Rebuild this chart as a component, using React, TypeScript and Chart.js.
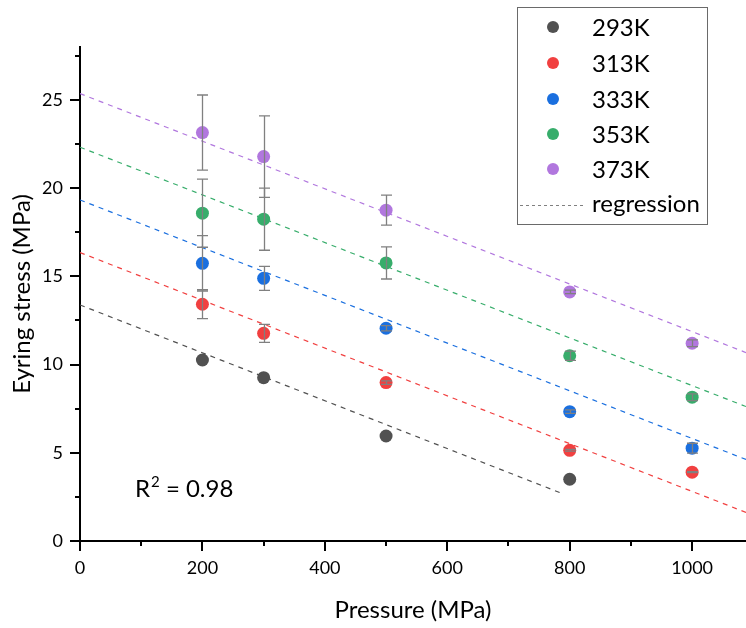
import React, { useEffect, useRef } from "react";
import { Chart, registerables } from "chart.js";

Chart.register(...registerables);

// ---------- data ----------
const pressures = [200, 300, 500, 800, 1000];
const seriesNames = ["293K", "313K", "333K", "353K", "373K"];
const colors = ["#515151", "#F14040", "#1A6FDF", "#37AD6B", "#B177DE"];

const s293 = [10.26, 9.26, 5.95, 3.5, null];
const s313 = [13.42, 11.77, 8.98, 5.14, 3.9];
const s333 = [15.74, 14.89, 12.06, 7.33, 5.26];
const s353 = [18.58, 18.24, 15.76, 10.5, 8.15];
const s373 = [23.15, 21.79, 18.75, 14.12, 11.21];

const e293 = [0, 0, 0, 0, 0];
const e313 = [0.82, 0.51, 0.1, 0.05, 0.03];
const e333 = [1.57, 0.68, 0.15, 0.1, 0.28];
const e353 = [1.93, 1.76, 0.91, 0.26, 0.19];
const e373 = [2.13, 2.31, 0.85, 0.1, 0.19];

// regression line end points (x in MPa, y in MPa)
const reg293X = [0, 790];
const reg293Y = [13.38, 2.66];
const regX = [0, 1088];
const reg313Y = [16.35, 1.62];
const reg333Y = [19.33, 4.62];
const reg353Y = [22.32, 7.62];
const reg373Y = [25.36, 10.68];

const xTickLabels = ["0", "200", "400", "600", "800", "1000"];
const yTickLabels = ["0", "5", "10", "15", "20", "25"];
const r2Text = "0.98";

const values = [s293, s313, s333, s353, s373];
const errors = [e293, e313, e333, e353, e373];
const regs = [
  { x: reg293X, y: reg293Y },
  { x: regX, y: reg313Y },
  { x: regX, y: reg333Y },
  { x: regX, y: reg353Y },
  { x: regX, y: reg373Y },
];

const FONT = "Lato";

const decor = {
  id: "decor",
  afterDatasetsDraw(chart: any) {
    const { ctx, scales } = chart;
    const x = scales.x;
    const y = scales.y;
    ctx.save();
    ctx.strokeStyle = "#808080";
    ctx.lineWidth = 1.3;
    values.forEach((arr, si) => {
      arr.forEach((v, i) => {
        const e = errors[si][i];
        if (v == null || !e) return;
        const px = Math.round(x.getPixelForValue(pressures[i])) + 0.5;
        const pt = y.getPixelForValue(v + e);
        const pb = y.getPixelForValue(v - e);
        ctx.beginPath();
        ctx.moveTo(px, pt);
        ctx.lineTo(px, pb);
        ctx.moveTo(px - 5.5, pt);
        ctx.lineTo(px + 5.5, pt);
        ctx.moveTo(px - 5.5, pb);
        ctx.lineTo(px + 5.5, pb);
        ctx.stroke();
      });
    });
    ctx.restore();
  },
  afterDraw(chart: any) {
    const { ctx, scales, chartArea } = chart;
    const x = scales.x;
    const y = scales.y;
    ctx.save();
    // tick marks
    ctx.strokeStyle = "#000";
    ctx.lineWidth = 2;
    y.ticks.forEach((t: any) => {
      const py = Math.round(y.getPixelForValue(t.value));
      const major = Math.abs(t.value % 5) < 1e-6;
      ctx.beginPath();
      ctx.moveTo(chartArea.left - (major ? 10 : 5), py);
      ctx.lineTo(chartArea.left, py);
      ctx.stroke();
    });
    x.ticks.forEach((t: any) => {
      const px = Math.round(x.getPixelForValue(t.value));
      const major = Math.abs(t.value % 200) < 1e-6;
      ctx.beginPath();
      ctx.moveTo(px, chartArea.bottom);
      ctx.lineTo(px, chartArea.bottom + (major ? 10 : 5));
      ctx.stroke();
    });

    // legend box
    const lx = 517, ly = 7, lw = 190, lh = 217;
    ctx.strokeStyle = "#6a6a6a";
    ctx.lineWidth = 1;
    ctx.strokeRect(lx + 0.5, ly + 0.5, lw, lh);
    const rows = [27, 63, 99, 134, 169];
    ctx.font = `24px ${FONT}`;
    ctx.textBaseline = "middle";
    ctx.textAlign = "left";
    seriesNames.forEach((n, i) => {
      ctx.fillStyle = colors[i];
      ctx.beginPath();
      ctx.arc(553, rows[i], 6, 0, Math.PI * 2);
      ctx.fill();
      ctx.fillStyle = "#000";
      ctx.fillText(n, 592, rows[i] + 1);
    });
    ctx.strokeStyle = "#808080";
    ctx.lineWidth = 1;
    ctx.setLineDash([3, 3]);
    ctx.beginPath();
    ctx.moveTo(520, 205.5);
    ctx.lineTo(586, 205.5);
    ctx.stroke();
    ctx.setLineDash([]);
    ctx.fillStyle = "#000";
    ctx.fillText("regression", 592, 204);

    // R² annotation
    ctx.textBaseline = "alphabetic";
    ctx.font = `24px ${FONT}`;
    let tx = 135;
    const by = 497;
    ctx.fillText("R", tx, by);
    tx += ctx.measureText("R").width + 1;
    ctx.font = `15px ${FONT}`;
    ctx.fillText("2", tx, by - 10);
    tx += ctx.measureText("2").width;
    ctx.font = `24px ${FONT}`;
    ctx.fillText(" = " + r2Text, tx, by);
    ctx.restore();
  },
};

export default function App() {
  const ref = useRef<HTMLCanvasElement>(null);
  useEffect(() => {
    if (!ref.current) return;
    const datasets: any[] = [];
    values.forEach((arr, i) => {
      datasets.push({
        label: seriesNames[i],
        type: "scatter",
        data: pressures
          .map((p, j) => ({ x: p, y: arr[j] }))
          .filter((d) => d.y != null),
        backgroundColor: colors[i],
        borderColor: colors[i],
        pointRadius: 6.5,
        pointBorderWidth: 0,
        order: 1,
      });
    });
    regs.forEach((r, i) => {
      datasets.push({
        label: "regression " + seriesNames[i],
        type: "line",
        data: r.x.map((xv, j) => ({ x: xv, y: r.y[j] })),
        borderColor: colors[i],
        borderWidth: 1.2,
        borderDash: [5, 5],
        pointRadius: 0,
        fill: false,
        order: 2,
      });
    });
    const chart = new Chart(ref.current, {
      type: "scatter",
      data: { datasets },
      plugins: [decor],
      options: {
        responsive: false,
        animation: false,
        layout: { autoPadding: false, padding: { top: 47, right: 0, left: 0, bottom: 0 } },
        plugins: {
          legend: { display: false },
          tooltip: { enabled: false },
        },
        scales: {
          x: {
            type: "linear",
            min: 0,
            max: 1088,
            grid: { display: false },
            border: { display: true, color: "#000", width: 2 },
            ticks: {
              stepSize: 100,
              includeBounds: false,
              autoSkip: false,
              maxRotation: 0,
              padding: 8,
              color: "#000",
              font: { family: FONT, size: 18 },
              callback: (v: any) => {
                const idx = xTickLabels.indexOf(String(v));
                return idx >= 0 ? xTickLabels[idx] : "";
              },
            },
            title: {
              display: true,
              text: "Pressure (MPa)",
              color: "#000",
              font: { family: FONT, size: 24 },
              padding: { top: 0, bottom: 3 },
            },
            afterFit: (s: any) => {
              s.height = 87;
            },
          },
          y: {
            type: "linear",
            min: 0,
            max: 28,
            grid: { display: false },
            border: { display: true, color: "#000", width: 2 },
            ticks: {
              stepSize: 2.5,
              includeBounds: false,
              autoSkip: false,
              padding: 9,
              color: "#000",
              font: { family: FONT, size: 18 },
              callback: (v: any) => {
                const idx = yTickLabels.indexOf(String(v));
                return idx >= 0 ? yTickLabels[idx] : "";
              },
            },
            title: {
              display: true,
              text: "Eyring stress (MPa)",
              color: "#000",
              font: { family: FONT, size: 24 },
              padding: { top: 8, bottom: 0 },
            },
            afterFit: (s: any) => {
              s.width = 80;
            },
          },
        },
      },
    });
    return () => chart.destroy();
  }, []);
  return (
    <div style={{ position: "fixed", left: 0, top: 0 }}>
      <canvas ref={ref} width={746} height={628} />
    </div>
  );
}
